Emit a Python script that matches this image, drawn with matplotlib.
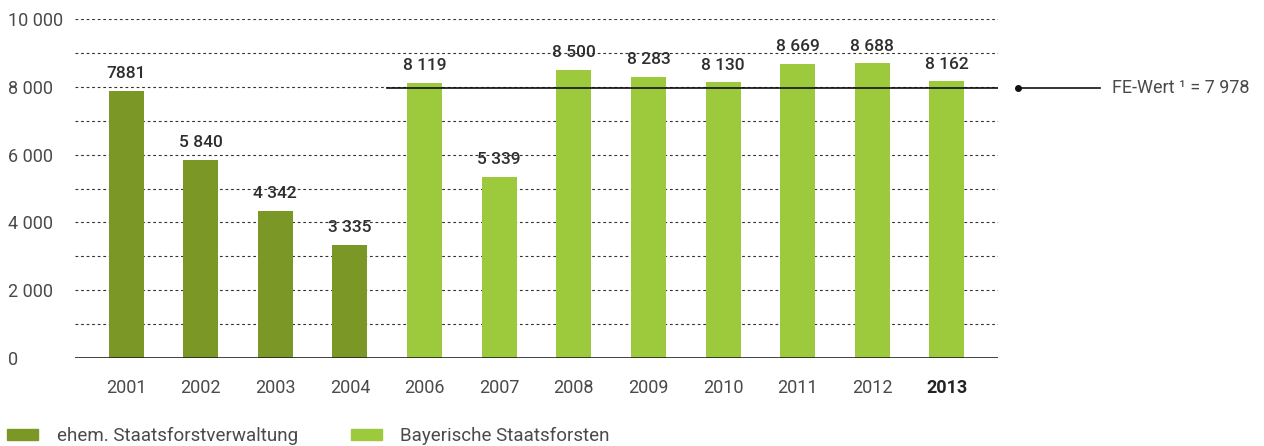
import matplotlib
matplotlib.use("Agg")
import matplotlib.pyplot as plt
from matplotlib.patches import Patch
import numpy as np

# data
years = ["2001", "2002", "2003", "2004", "2006", "2007", "2008", "2009", "2010", "2011", "2012", "2013"]
values = [7881, 5840, 4342, 3335, 8119, 5339, 8500, 8283, 8130, 8669, 8688, 8162]
value_labels = ["7881", "5 840", "4 342", "3 335", "8 119", "5 339", "8 500", "8 283", "8 130", "8 669", "8 688", "8 162"]
groups = ["ehem. Staatsforstverwaltung"] * 4 + ["Bayerische Staatsforsten"] * 8
fe_wert = 7978
yticks = [0, 2000, 4000, 6000, 8000, 10000]
ytick_labels = ["0", "2 000", "4 000", "6 000", "8 000", "10 000"]

plt.rcParams["font.family"] = ["Roboto", "DejaVu Sans"]

colors = {"ehem. Staatsforstverwaltung": "#7b9725", "Bayerische Staatsforsten": "#9cca3c"}
txt = "#2e2e2e"
grey = "#4a4a4a"

fig = plt.figure(figsize=(12.64, 4.46), dpi=100)
ax = fig.add_axes([75 / 1264, 88 / 446, 923 / 1264, 339 / 446])

x = np.arange(len(years))
bar_colors = [colors[g] for g in groups]
ax.bar(x, values, width=0.47, color=bar_colors, zorder=2)

for xi, v, lab in zip(x, values, value_labels):
    ax.annotate(lab, (xi, v), xytext=(0, 7), textcoords="offset points",
                ha="center", va="bottom", fontsize=12.5, fontweight="medium", color=txt)

ax.set_xlim(-0.684, len(years) - 1 + 0.684)
ax.set_ylim(0, 10000)

# dashed grid every 1000
for g in range(1000, 10001, 1000):
    ax.axhline(g, color="#333333", lw=0.8, ls=(0, (2.5, 2.5)), zorder=1)
ax.axhline(0, color="#222222", lw=1.2, zorder=3)

# FE-Wert reference line
ax.plot([3.5, len(years) - 1 + 0.684], [fe_wert, fe_wert], color="#111111", lw=1.2, zorder=3)
tr = ax.get_yaxis_transform()
ax.plot([1.0217, 1.1105], [fe_wert, fe_wert], color="#111111", lw=1.2, transform=tr, clip_on=False)
ax.plot([1.0217], [fe_wert], "o", color="#111111", ms=4, transform=tr, clip_on=False)
ax.text(1.1235, fe_wert, "FE-Wert \u00b9 = 7 978", transform=tr, ha="left", va="center",
        fontsize=13, color=grey)

for s in ax.spines.values():
    s.set_visible(False)

ax.set_yticks(yticks)
ax.set_yticklabels(ytick_labels, fontsize=13, color=grey, ha="left")
ax.tick_params(axis="y", length=0, pad=48)
ax.set_xticks(x)
ax.set_xticklabels(years, fontsize=13, color=grey)
ax.tick_params(axis="x", length=0, pad=15)
last = ax.get_xticklabels()[-1]
last.set_fontweight("bold")
last.set_color("#222222")

handles = [Patch(color=colors[k]) for k in ["ehem. Staatsforstverwaltung", "Bayerische Staatsforsten"]]
leg = fig.legend(handles, ["ehem. Staatsforstverwaltung", "Bayerische Staatsforsten"], loc="center left",
                 bbox_to_anchor=(7 / 1264, 10 / 446), borderaxespad=0, borderpad=0, ncol=2, frameon=False,
                 fontsize=13.5, handlelength=1.66, handleheight=0.53, handletextpad=1.0, columnspacing=2.8)
for t in leg.get_texts():
    t.set_color(grey)

fig.savefig("out.png", dpi=100)
